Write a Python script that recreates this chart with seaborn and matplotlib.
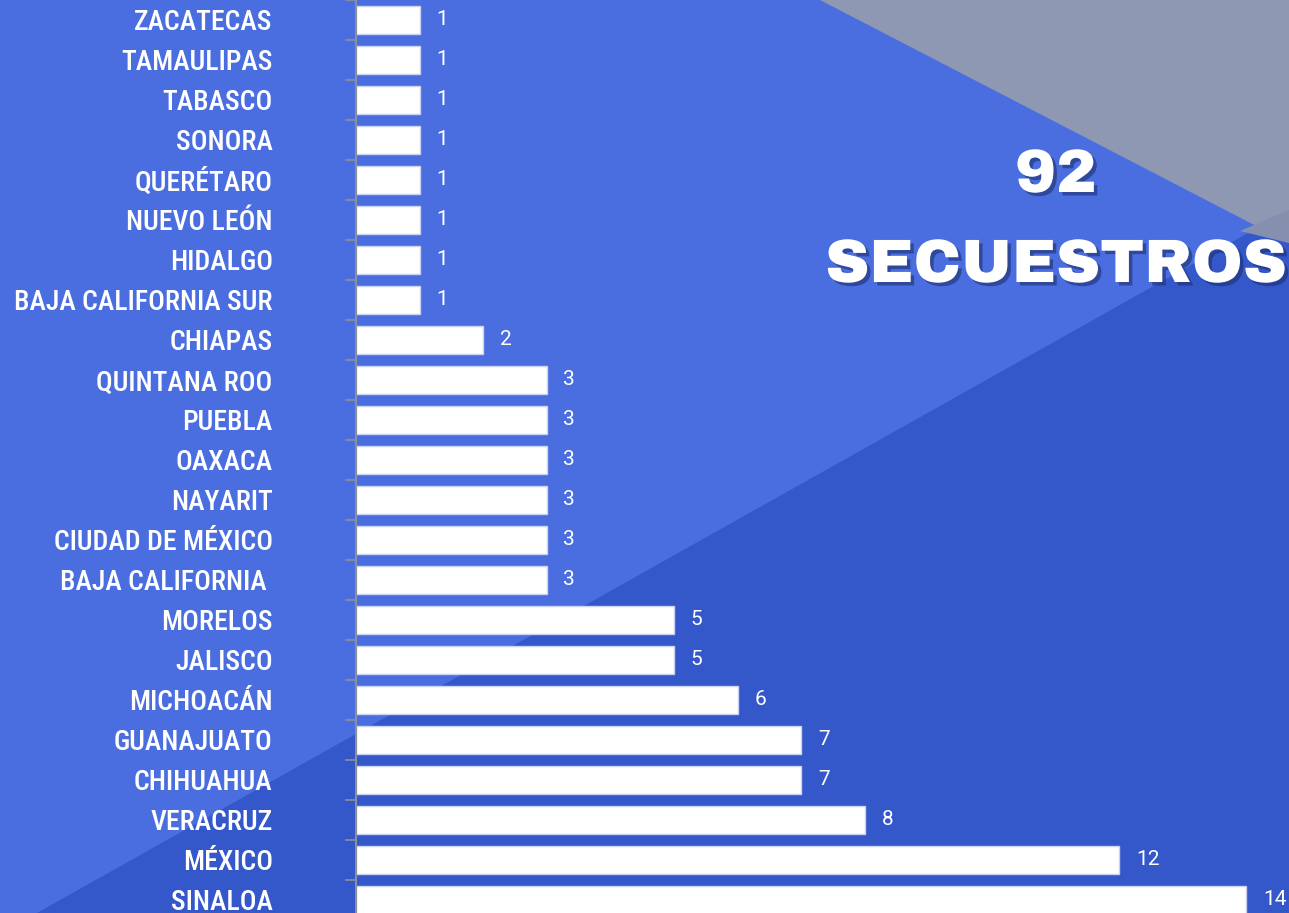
import matplotlib
matplotlib.use("Agg")
import matplotlib.pyplot as plt
import matplotlib.patheffects as pe
from matplotlib.patches import Polygon
import seaborn as sns
import pandas as pd

states = ["ZACATECAS", "TAMAULIPAS", "TABASCO", "SONORA", "QUERÉTARO", "NUEVO LEÓN",
          "HIDALGO", "BAJA CALIFORNIA SUR", "CHIAPAS", "QUINTANA ROO", "PUEBLA", "OAXACA",
          "NAYARIT", "CIUDAD DE MÉXICO", "BAJA CALIFORNIA ", "MORELOS", "JALISCO",
          "MICHOACÁN", "GUANAJUATO", "CHIHUAHUA", "VERACRUZ", "MÉXICO", "SINALOA"]
counts = [1, 1, 1, 1, 1, 1, 1, 1, 2, 3, 3, 3, 3, 3, 3, 5, 5, 6, 7, 7, 8, 12, 14]
total_text = "92"
title_text = "SECUESTROS"

LIGHT = "#4A6EE0"
DARK = "#3457CA"
GRAY = "#8E98B3"

sns.set_theme(style="white")
plt.rcParams["font.family"] = ["Roboto Condensed", "DejaVu Sans"]

W, H = 1289, 913
fig = plt.figure(figsize=(W / 100, H / 100), dpi=100)
fig.patch.set_facecolor(LIGHT)

def P(x, y):
    return (x / W, 1 - y / H)

for pts, col in [([P(37, 913), P(1289, 210), P(1289, 913)], DARK),
                 ([P(820, 0), P(1289, 0), P(1289, 243)], GRAY),
                 ([P(1240, 231), P(1289, 210), P(1289, 243)], "#8590AE")]:
    fig.patches.append(Polygon(pts, closed=True, transform=fig.transFigure,
                               facecolor=col, edgecolor="none", zorder=-10))

ax = fig.add_axes([356 / W, 0, 1 - 356 / W, 1])
ax.set_zorder(5)
ax.set_facecolor("none")

df = pd.DataFrame({"state": states, "count": counts})
sns.barplot(data=df, y="state", x="count", orient="h", color="white", width=0.7,
            edgecolor="#C9D2F2", linewidth=1, saturation=1, ax=ax)

ax.set_xlabel("")
ax.set_ylabel("")
ax.set_xticks([])

for s in ["top", "right", "bottom"]:
    ax.spines[s].set_visible(False)
ax.spines["left"].set_color("#8A8FA0")
ax.spines["left"].set_linewidth(1.5)

ax.tick_params(axis="y", which="major", length=0, pad=60, labelsize=20, labelcolor="white")
for lab in ax.get_yticklabels():
    lab.set_fontweight("medium")
    lab.set_family(["Roboto Condensed", "DejaVu Sans"])
ax.set_yticks([i + 0.5 for i in range(-1, len(states))], minor=True)
ax.tick_params(axis="y", which="minor", length=8, width=1.2, color="#8A8FA0", left=True)

# set limits after ticks (set_yticks may expand the view)
ax.set_xlim(0, (W - 356) / 63.6)
ax.set_ylim(22.33, -0.5)

for c in ax.containers:
    ax.bar_label(c, labels=[str(v) for v in counts], padding=12, color="white",
                 fontsize=15, family=["Roboto", "DejaVu Sans"])

shadow = [pe.withSimplePatchShadow(offset=(2.5, -2.5), shadow_rgbFace="#1E2F70", alpha=0.6)]
for txt, yy in [(total_text, 176), (title_text, 266)]:
    fig.text(1056 / W, 1 - yy / H, txt, ha="center", va="center", color="white",
             fontsize=44, family=["Archivo Black", "Lato", "DejaVu Sans"], path_effects=shadow,
             zorder=10)

fig.savefig("out.png", dpi=100, facecolor=fig.get_facecolor())
